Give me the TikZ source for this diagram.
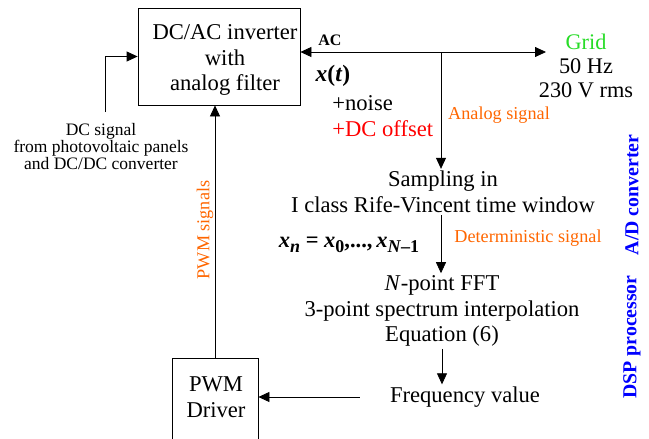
\documentclass[tikz,border=0pt]{standalone}
\usepackage{fontspec}
\setmainfont{Liberation Serif}
\usetikzlibrary{arrows.meta}
\definecolor{orng}{RGB}{255,102,0}
\definecolor{grn}{RGB}{40,220,40}
\definecolor{blu}{RGB}{0,0,255}
\newcommand{\fsz}[2]{\fontsize{#1}{#2}\selectfont}
\newcommand{\sbx}[1]{\raisebox{-5pt}{\fsz{18}{18}#1}}
\begin{document}
\begin{tikzpicture}[x=1pt,y=-1pt, >={Triangle[length=11pt,width=10pt]}, line width=0.8pt,
  box/.style={draw, line width=0.8pt, inner sep=0pt},
  main/.style={font=\fsz{22.6}{25.5}, align=center, inner sep=2pt},
  small/.style={font=\fsz{17.5}{17}, align=center, inner sep=0pt},
  olab/.style={text=orng, font=\fsz{18.2}{18}, inner sep=0pt},
  blab/.style={text=blu, font=\bfseries\fsz{19.8}{20}, rotate=90, inner sep=0pt},
]
\useasboundingbox (0,0) rectangle (649,439);

% boxes
\node[box, minimum width=162pt, minimum height=97pt] (inv) at (219,56.5) {};
\node[main] (invtxt) at (225,60) {DC/AC inverter\\with\\analog filter};
\node[box, minimum width=86pt, minimum height=88pt] (pwm) at (215,402) {};
\node[main] (pwmtxt) at (216,397) {PWM\\Driver};

% processing texts
\node[main] (samp) at (443,192) {Sampling in\\I class Rife-Vincent time window};
\node[main] (fft) at (442,311) {\textit{N}-point FFT\\3-point spectrum interpolation\\Equation (6)};
\node[main] (freq) at (465,397) {Frequency value};

% grid
\coordinate (acR) at (546,52);
\coordinate (jn) at (441,52);
\node[main, font=\fsz{22.3}{24}] (grid) at (586,66) {\textcolor{grn}{Grid}\\50 Hz\\230 V rms};
\node[inner sep=0pt, font=\bfseries\fsz{16}{16}] (ac) at (330,40) {AC};
\node[inner sep=0pt, font=\bfseries\fsz{23.5}{24}] (xt) at (333,76) {\textit{x}(\textit{t})};
\node[main, align=left, anchor=west, inner sep=0pt] (noise) at (332,116) {+noise\\\textcolor{red}{+DC offset}};
\node[olab] (analog) at (499,115) {Analog signal};
\node[olab] (determ) at (528,238) {Deterministic signal};
\node[inner sep=0pt, font=\bfseries\fsz{22.5}{24}] (xn) at (349,245)
  {\textit{x}\sbx{\textit{n}} = \textit{x}\sbx{0},...,\,\textit{x}\sbx{\textit{N}–1}};

% DC signal
\coordinate (dcS) at (105,112);
\node[small] (dctxt) at (101,147) {DC signal\\from photovoltaic panels\\and DC/DC converter};

% side labels
\node[olab, rotate=90] (pwmsig) at (205,230) {PWM signals};
\node[blab] (adc) at (632,195) {A/D converter};
\node[blab] (dsp) at (632,337) {DSP processor};

% connectors
\draw[<->] (inv.east |- acR) -- (acR);
\draw[->] (jn) -- (jn |- samp.north);
\draw[->] (samp.south -| jn) -- (jn |- fft.north);
\draw[->] (fft.south) -- (fft.south |- freq.north);
\draw[->, shorten <=28pt] (freq.west) -- (pwm.east |- freq.west);
\draw[->] (pwm.north) -- (pwm.north |- inv.south);
\draw[->] (dcS) |- (inv.west);
\end{tikzpicture}
\end{document}
